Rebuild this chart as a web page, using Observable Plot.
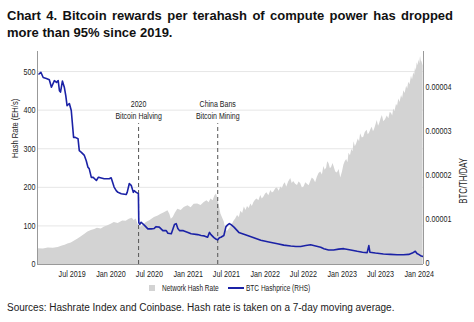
<!DOCTYPE html>
<html><head><meta charset="utf-8">
<script src="https://cdn.jsdelivr.net/npm/d3@7"></script>
<script src="https://cdn.jsdelivr.net/npm/@observablehq/plot@0.6"></script>
<style>
body{margin:0;background:#fff;width:474px;height:322px;overflow:hidden;font-family:"Liberation Sans",Arial,sans-serif;position:relative;}
#title{position:absolute;left:7px;top:8px;width:446px;font-weight:bold;font-size:13px;line-height:16.7px;text-align:justify;color:#111;}
#chart{position:absolute;left:0;top:42px;}
#legend{position:absolute;left:0;top:282px;width:474px;height:12px;color:#222;}
#legend .sw{position:absolute;top:3px;left:149px;width:6px;height:6px;background:#d3d3d3;}
#legend .ln{position:absolute;top:5px;left:228px;width:16px;height:2px;background:#1b22a6;}
#legend .tx{position:absolute;top:0;line-height:12px;font-size:8.4px;white-space:nowrap;transform:scaleX(0.78);transform-origin:0 50%;}
#caption{position:absolute;left:7px;top:302px;font-size:10px;line-height:12px;color:#222;white-space:nowrap;}
</style></head>
<body>
<div id="title">Chart 4. Bitcoin rewards per terahash of compute power has dropped more than 95% since 2019.</div>
<div id="chart"></div>
<div id="legend"><span class="sw"></span><span class="tx" style="left:162px">Network Hash Rate</span><span class="ln"></span><span class="tx" style="left:246px">BTC Hashprice (RHS)</span></div>
<div id="caption">Sources: Hashrate Index and Coinbase. Hash rate is taken on a 7-day moving average.</div>
<script>
// Network hash rate (EH/s): [date, value]
const hashRate = [
["2019-01-20",41],["2019-02-15",40],["2019-03-10",43],["2019-04-03",42],["2019-04-26",44],["2019-05-16",48],["2019-05-29",50],["2019-06-11",53],["2019-06-27",56],["2019-07-11",60],["2019-07-29",66],["2019-08-14",72],["2019-08-29",78],["2019-09-14",84],["2019-09-30",88],["2019-10-16",91],["2019-10-29",94],["2019-11-16",92],["2019-12-02",97],["2019-12-15",100],
["2020-01-02",104],["2020-01-17",109],["2020-02-04",106],["2020-02-26",113],["2020-03-13",112],["2020-03-28",117],["2020-04-11",120],["2020-04-20",114],["2020-04-30",118],["2020-05-08",104],["2020-05-19",96],["2020-06-02",102],["2020-06-17",109],["2020-07-05",114],["2020-07-25",122],["2020-08-12",126],["2020-08-26",130],["2020-09-10",134],["2020-09-27",139],["2020-10-06",130],["2020-10-13",117],["2020-10-22",122],["2020-11-01",133],["2020-11-13",143],["2020-11-29",140],["2020-12-13",148],["2020-12-31",152],
["2021-01-15",147],["2021-01-29",156],["2021-02-15",157],["2021-03-03",153],["2021-03-18",161],["2021-03-31",165],["2021-04-10",160],["2021-04-19",170],["2021-04-29",165],["2021-05-08",178],["2021-05-15",183],["2021-05-22",170],["2021-05-28",152],["2021-06-05",131],["2021-06-21",110],["2021-06-29",88],
["2021-07-07",86],["2021-07-15",92],["2021-07-22",97],["2021-07-30",104],["2021-08-06",112],["2021-08-14",118],["2021-08-23",127],["2021-08-31",122],["2021-09-08",138],["2021-09-16",132],["2021-09-24",149],["2021-10-02",140],["2021-10-09",150],["2021-10-17",145],["2021-10-25",157],["2021-11-01",150],["2021-11-08",160],["2021-11-15",166],["2021-11-23",170],["2021-12-02",165],["2021-12-11",179],["2021-12-18",170],["2021-12-26",175],
["2022-01-02",182],["2022-01-09",186],["2022-01-18",178],["2022-01-28",192],["2022-02-04",185],["2022-02-11",188],["2022-02-20",196],["2022-02-28",198],["2022-03-08",190],["2022-03-16",201],["2022-03-23",196],["2022-03-30",207],["2022-04-06",212],["2022-04-13",200],["2022-04-22",214],["2022-05-02",223],["2022-05-09",210],["2022-05-16",215],["2022-05-25",208],["2022-06-03",205],["2022-06-10",214],["2022-06-18",210],["2022-06-26",198],["2022-07-04",201],["2022-07-12",212],["2022-07-20",208],["2022-07-28",204],["2022-08-04",214],["2022-08-12",224],["2022-08-20",220],["2022-08-28",212],["2022-09-05",226],["2022-09-13",236],["2022-09-21",240],["2022-09-29",232],["2022-10-06",254],["2022-10-12",244],["2022-10-19",250],["2022-10-24",266],["2022-10-30",262],["2022-11-06",248],["2022-11-12",252],["2022-11-18",262],["2022-11-23",254],["2022-12-01",240],["2022-12-09",237],["2022-12-17",246],["2022-12-25",224],
["2023-01-02",240],["2023-01-09",258],["2023-01-15",266],["2023-01-22",272],["2023-01-28",264],["2023-02-02",288],["2023-02-09",282],["2023-02-15",298],["2023-02-21",292],["2023-02-26",318],["2023-03-04",305],["2023-03-10",312],["2023-03-18",325],["2023-03-24",318],["2023-03-29",339],["2023-04-06",328],["2023-04-13",330],["2023-04-20",342],["2023-04-29",348],["2023-05-04",336],["2023-05-10",340],["2023-05-17",350],["2023-05-23",356],["2023-05-29",344],["2023-06-03",350],["2023-06-10",362],["2023-06-16",373],["2023-06-22",358],["2023-06-27",365],["2023-07-04",378],["2023-07-10",386],["2023-07-17",370],["2023-07-25",375],["2023-08-02",385],["2023-08-10",378],["2023-08-16",394],["2023-08-22",392],["2023-08-28",385],["2023-09-02",403],["2023-09-08",396],["2023-09-15",415],["2023-09-20",410],["2023-09-26",429],["2023-10-02",420],["2023-10-09",438],["2023-10-14",430],["2023-10-20",450],["2023-10-26",443],["2023-11-02",462],["2023-11-07",455],["2023-11-12",472],["2023-11-18",466],["2023-11-25",488],["2023-11-30",478],["2023-12-06",497],["2023-12-10",490],["2023-12-14",510],["2023-12-18",502],["2023-12-22",523],["2023-12-26",515],["2023-12-30",530],
["2024-01-03",520],["2024-01-07",540],["2024-01-10",528],["2024-01-14",525],["2024-01-19",515]];

// BTC hashprice (BTC/TH/day): [date, value]
const hashPrice = [
["2019-01-25",4.33e-5],["2019-02-03",4.37e-5],["2019-02-14",4.25e-5],["2019-03-01",4.23e-5],["2019-03-15",4.20e-5],["2019-03-25",4.03e-5],["2019-04-08",4.18e-5],["2019-04-18",4.14e-5],["2019-04-26",4.18e-5],["2019-05-02",3.95e-5],["2019-05-07",3.92e-5],["2019-05-16",4.17e-5],["2019-05-25",4.03e-5],["2019-06-01",3.84e-5],["2019-06-07",3.61e-5],["2019-06-18",3.66e-5],["2019-06-27",3.50e-5],["2019-07-08",2.89e-5],["2019-07-16",2.89e-5],["2019-07-29",2.86e-5],["2019-08-04",2.59e-5],["2019-08-14",2.55e-5],["2019-08-28",2.48e-5],["2019-09-06",2.36e-5],["2019-09-14",2.21e-5],["2019-09-20",2.18e-5],["2019-09-30",1.98e-5],["2019-10-09",1.98e-5],["2019-10-24",1.91e-5],["2019-11-02",1.98e-5],["2019-11-07",1.98e-5],["2019-11-30",1.95e-5],["2019-12-24",1.95e-5],
["2020-01-02",1.97e-5],["2020-01-16",1.76e-5],["2020-01-26",1.68e-5],["2020-02-03",1.64e-5],["2020-02-19",1.61e-5],["2020-03-13",1.59e-5],["2020-03-18",1.64e-5],["2020-03-28",1.84e-5],["2020-04-06",1.80e-5],["2020-04-16",1.64e-5],["2020-04-20",1.68e-5],["2020-04-30",1.64e-5],["2020-05-10",1.61e-5],["2020-05-12",9.5e-6],["2020-05-16",9.1e-6],["2020-05-23",9.6e-6],["2020-06-08",8.9e-6],["2020-06-24",8.1e-6],["2020-07-10",8.1e-6],["2020-07-24",8.2e-6],["2020-08-02",8.6e-6],["2020-08-17",8.5e-6],["2020-09-03",7.7e-6],["2020-09-19",7.7e-6],["2020-09-27",7.1e-6],["2020-10-13",7.0e-6],["2020-10-28",9.1e-6],["2020-11-05",9.3e-6],["2020-11-13",8.2e-6],["2020-11-21",7.7e-6],["2020-12-09",7.7e-6],["2020-12-31",7.3e-6],
["2021-01-15",7.0e-6],["2021-02-15",6.8e-6],["2021-03-03",6.6e-6],["2021-03-18",6.5e-6],["2021-04-03",6.2e-6],["2021-04-12",7.3e-6],["2021-04-19",6.8e-6],["2021-05-03",6.1e-6],["2021-05-12",5.8e-6],["2021-05-20",5.6e-6],["2021-05-29",6.1e-6],["2021-06-05",6.2e-6],["2021-06-19",6.6e-6],["2021-06-29",8.6e-6],["2021-07-07",9.0e-6],["2021-07-15",9.3e-6],["2021-07-22",9.1e-6],["2021-08-06",8.5e-6],["2021-08-29",7.3e-6],["2021-10-09",6.6e-6],["2021-11-08",6.1e-6],["2021-12-11",5.5e-6],
["2022-01-18",5.1e-6],["2022-02-28",4.7e-6],["2022-03-30",4.4e-6],["2022-05-02",4.2e-6],["2022-05-26",4.1e-6],["2022-06-18",4.1e-6],["2022-07-12",4.3e-6],["2022-08-04",4.5e-6],["2022-08-28",4.2e-6],["2022-09-21",3.9e-6],["2022-10-06",3.6e-6],["2022-10-28",3.3e-6],["2022-11-21",3.3e-6],["2022-12-15",3.5e-6],
["2023-01-08",3.6e-6],["2023-02-10",3.3e-6],["2023-03-13",3.0e-6],["2023-04-07",2.8e-6],["2023-04-29",2.7e-6],["2023-05-07",4.3e-6],["2023-05-12",2.8e-6],["2023-06-07",2.6e-6],["2023-07-15",2.4e-6],["2023-08-17",2.3e-6],["2023-09-18",2.2e-6],["2023-10-18",2.2e-6],["2023-11-12",2.3e-6],["2023-11-29",2.6e-6],["2023-12-13",3.0e-6],["2023-12-21",2.5e-6],["2023-12-29",2.3e-6],["2024-01-07",2.0e-6],["2024-01-19",1.8e-6]];

// Events
const eventDates = ["2020-05-11","2021-05-21"];
const eventLabels = ["2020\nBitcoin Halving","China Bans\nBitcoin Mining"];

// Axes
const xTicks = ["2019-07-01","2020-01-01","2020-07-01","2021-01-01","2021-07-01","2022-01-01","2022-07-01","2023-01-01","2023-07-01","2024-01-01"];
const xTickLabels = ["Jul 2019","Jan 2020","Jul 2020","Jan 2021","Jul 2021","Jan 2022","Jul 2022","Jan 2023","Jul 2023","Jan 2024"];
const leftTicks = [0,100,200,300,400,500];
const rightTicks = [0,0.00001,0.00002,0.00003,0.00004];
const rightTickLabels = ["0","0.00001","0.00002","0.00003","0.00004"];
const leftTitle = "Hash Rate (EH/s)";
const rightTitle = "BTC/TH/DAY";

const K = 1.14e7; // right-axis units -> left-axis units
const hash = hashRate.map(([d,v])=>({date:new Date(d), value:v}));
const price = hashPrice.map(([d,v])=>({date:new Date(d), value:v*K}));
const events = eventDates.map((d,i)=>({date:new Date(d), label:eventLabels[i]}));
const xDomain = [new Date("2019-01-18"), new Date("2024-01-21")];
const xTickDates = xTicks.map(d=>new Date(d));
const xLabelFor = d => xTickLabels[xTickDates.findIndex(t=>+t===+d)];
const rLabelFor = d => rightTickLabels[rightTicks.findIndex(v=>Math.abs(v*K-d)<1e-6)];

const chart = Plot.plot({
  width:474, height:240, marginLeft:37, marginRight:51, marginTop:9, marginBottom:18,
  style:{fontFamily:"'Liberation Sans',Arial,sans-serif", fontSize:"9.2px", color:"#222", background:"transparent"},
  x:{type:"utc", domain:xDomain},
  y:{domain:[0,552]},
  marks:[
    Plot.gridY(leftTicks.filter(d=>d>0), {stroke:"#e6e6e6", strokeOpacity:1}),
    Plot.areaY(hash,{x:"date",y:"value",fill:"#d3d3d3"}),
    Plot.ruleX(events,{x:"date",y1:0,y2:365,stroke:"#555",strokeDasharray:"4,3"}),
    Plot.line(price,{x:"date",y:"value",stroke:"#1b22a6",strokeWidth:1.6}),
    Plot.text(events,{x:"date",y:402,text:"label",lineHeight:1.33,fontSize:9,fill:"#222"}),
    Plot.ruleX(xDomain,{stroke:"#999"}),
    Plot.ruleY([0],{stroke:"#999"}),
    Plot.axisX({ticks:xTickDates, tickFormat:xLabelFor, tickSize:0, tickPadding:5.5, label:null}),
    Plot.axisY({ticks:leftTicks, tickSize:0, tickPadding:2, label:null}),
    Plot.axisY({anchor:"right", ticks:rightTicks.map(v=>v*K), tickFormat:rLabelFor, tickSize:0, tickPadding:2, dy:-1, label:null}),
    Plot.text([leftTitle],{text:d=>d, frameAnchor:"left", dx:-23, rotate:-90, fontSize:9.7, fill:"#222"}),
    Plot.text([rightTitle],{text:d=>d, frameAnchor:"right", dx:40, rotate:-90, fontSize:10, fill:"#222"})
  ]
});
// narrow the chart's text horizontally (Arial Narrow look)
chart.querySelectorAll("text").forEach(t => {
  const tr = t.getAttribute("transform");
  if (tr) t.setAttribute("transform", tr + " scale(0.78,1)");
  else {
    const x = +t.getAttribute("x") || 0, y = +t.getAttribute("y") || 0;
    t.removeAttribute("x"); t.removeAttribute("y");
    t.setAttribute("transform", `translate(${x},${y}) scale(0.78,1)`);
  }
});
document.getElementById("chart").appendChild(chart);
</script>
</body></html>
